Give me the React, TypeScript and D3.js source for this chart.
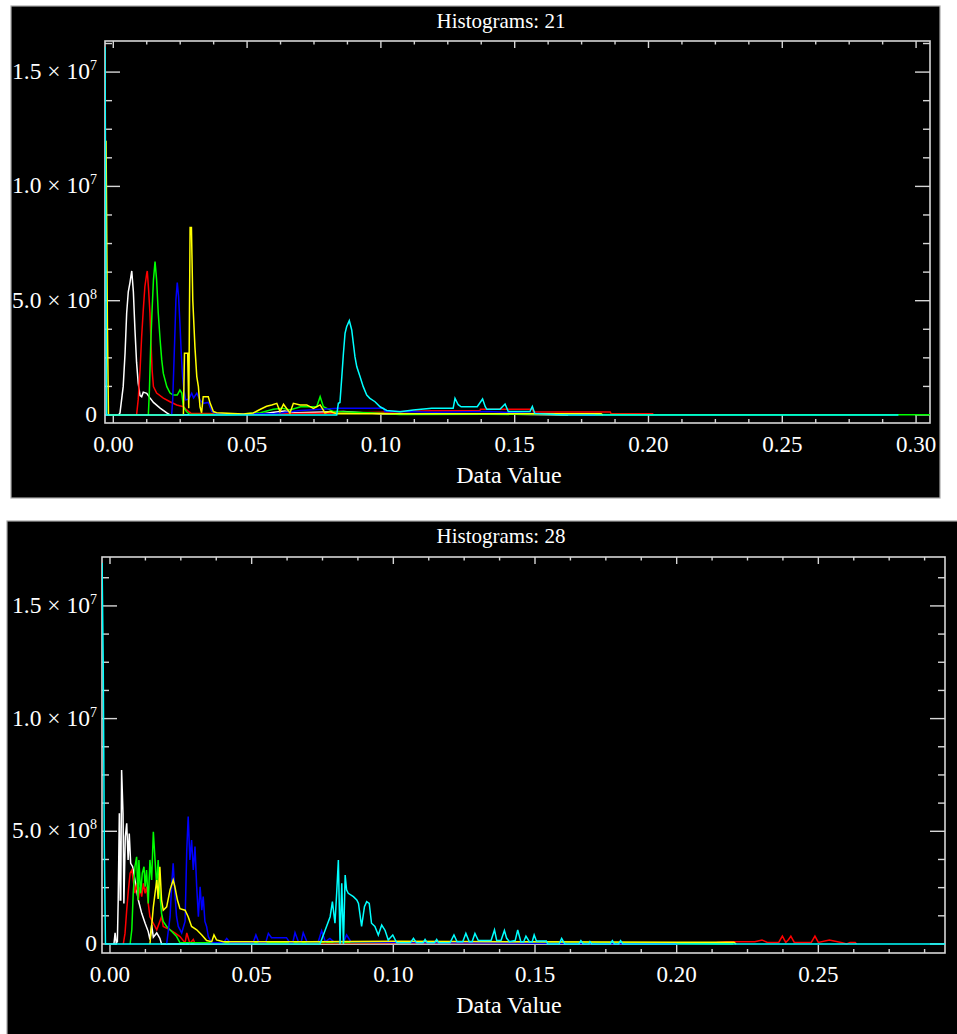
import React, { useEffect, useRef } from "react";
import * as d3 from "d3";

type Pt = [number, number];

// Histograms: 21  -- [data value, count in millions]
const white21: Pt[] = [[0.0020, 0], [0.0025, 0.09], [0.0037, 1.24], [0.0044, 2.71], [0.0050, 4.46], [0.0056, 5.39], [0.0062, 5.77], [0.0069, 6.3], [0.0075, 5.39], [0.0081, 3.72], [0.0087, 2.3], [0.0093, 1.4], [0.0100, 0.85], [0.0106, 0.8], [0.0112, 1.0], [0.0125, 0.95], [0.0137, 0.75], [0.0150, 0.55], [0.0175, 0.3], [0.0200, 0.09], [0.0212, 0], [0.0560, 0.05], [0.0600, 0.12], [0.0640, 0.18], [0.0680, 0.1], [0.0860, 0.15], [0.0900, 0.12], [0.1000, 0.05], [0.1500, 0.03], [0.1700, 0]];
const red21: Pt[] = [[0.0087, 0], [0.0093, 0.66], [0.0100, 1.97], [0.0106, 3.43], [0.0112, 4.59], [0.0118, 5.61], [0.0125, 6.2], [0.0127, 6.3], [0.0132, 5.47], [0.0137, 4.46], [0.0141, 3.15], [0.0145, 1.97], [0.0150, 1.24], [0.0162, 0.96], [0.0187, 0.74], [0.0212, 0.58], [0.0237, 0.44], [0.0262, 0.36], [0.0274, 0.22], [0.0290, 0.08], [0.0400, 0.06], [0.0600, 0.05], [0.0800, 0.08], [0.0900, 0.1], [0.1000, 0.12], [0.1190, 0.19], [0.1370, 0.19], [0.1372, 0.25], [0.1567, 0.25], [0.1570, 0.13], [0.1857, 0.13], [0.1860, 0.06], [0.2015, 0.06], [0.2020, 0]];
const green21: Pt[] = [[0.0131, 0], [0.0135, 1.09], [0.0140, 3.14], [0.0145, 4.59], [0.0150, 5.9], [0.0156, 6.71], [0.0162, 5.9], [0.0168, 4.46], [0.0175, 3.28], [0.0181, 2.41], [0.0187, 1.82], [0.0200, 1.24], [0.0212, 0.96], [0.0224, 0.87], [0.0239, 0.87], [0.0249, 1.09], [0.0256, 0.96], [0.0262, 0.36], [0.0274, 0.14], [0.0287, 0.02], [0.0450, 0.02], [0.0550, 0.1], [0.0598, 0.25], [0.0630, 0.3], [0.0660, 0.22], [0.0700, 0.36], [0.0760, 0.36], [0.0773, 0.8], [0.0785, 0.36], [0.0823, 0.15], [0.0900, 0.12], [0.1000, 0.08], [0.1070, 0.02], [0.1400, 0.03], [0.2000, 0.01], [0.3052, 0.01]];
const blue21: Pt[] = [[0.0218, 0], [0.0222, 0.66], [0.0227, 2.41], [0.0231, 3.86], [0.0234, 5.03], [0.0239, 5.79], [0.0244, 5.17], [0.0249, 4.01], [0.0254, 2.7], [0.0259, 1.68], [0.0264, 1.09], [0.0270, 0.66], [0.0282, 0.7], [0.0293, 0.95], [0.0300, 0.75], [0.0312, 0.95], [0.0324, 0.66], [0.0336, 0.51], [0.0355, 0.55], [0.0368, 0.15], [0.0386, 0.05], [0.0600, 0.05], [0.0700, 0.2], [0.0840, 0.29], [0.1010, 0.29], [0.1015, 0.15], [0.1070, 0.15], [0.1200, 0.12], [0.1400, 0.15], [0.1600, 0.05], [0.1800, 0]];
const yellow21: Pt[] = [[-0.0027, 12.0], [-0.0022, 3.9], [-0.0018, 0], [0.0262, 0], [0.0266, 2.7], [0.0278, 2.7], [0.0282, 0.3], [0.0287, 8.2], [0.0292, 8.2], [0.0297, 5.03], [0.0305, 2.99], [0.0312, 1.68], [0.0318, 1.24], [0.0324, 0.36], [0.0330, 0.1], [0.0336, 0.8], [0.0355, 0.8], [0.0362, 0.51], [0.0374, 0.15], [0.0386, 0.1], [0.0486, 0.04], [0.0523, 0.09], [0.0548, 0.24], [0.0573, 0.38], [0.0592, 0.44], [0.0611, 0.51], [0.0623, 0.15], [0.0636, 0.47], [0.0660, 0.09], [0.0673, 0.51], [0.0698, 0.44], [0.0723, 0.44], [0.0748, 0.29], [0.0773, 0.44], [0.0791, 0.09], [0.0810, 0.15], [0.0835, 0.06], [0.1000, 0.06], [0.1567, 0.05], [0.1823, 0.06], [0.1830, 0]];
const cyan21: Pt[] = [[-0.0031, 16.1], [-0.0025, 0], [0.0835, 0], [0.0841, 0.51], [0.0847, 0.55], [0.0854, 1.68], [0.0860, 2.7], [0.0866, 3.57], [0.0872, 3.86], [0.0882, 4.13], [0.0891, 3.72], [0.0897, 3.14], [0.0903, 2.55], [0.0910, 2.11], [0.0922, 1.68], [0.0934, 1.24], [0.0947, 0.87], [0.0959, 0.73], [0.0978, 0.58], [0.0997, 0.36], [0.1022, 0.2], [0.1072, 0.14], [0.1121, 0.22], [0.1190, 0.29], [0.1270, 0.29], [0.1277, 0.73], [0.1289, 0.45], [0.1300, 0.36], [0.1360, 0.36], [0.1380, 0.7], [0.1390, 0.36], [0.1396, 0.25], [0.1445, 0.25], [0.1464, 0.48], [0.1476, 0.15], [0.1557, 0.15], [0.1566, 0.37], [0.1575, 0.07], [0.1650, 0.02], [0.1700, 0], [0.2934, 0]];

// Histograms: 28
const white28: Pt[] = [[0.0014, 0], [0.0018, 0.49], [0.0022, 0.05], [0.0026, 0.1], [0.0029, 1.95], [0.0033, 5.8], [0.0036, 1.95], [0.0038, 1.95], [0.0041, 7.72], [0.0046, 5.8], [0.0049, 1.8], [0.0054, 4.76], [0.0059, 5.35], [0.0064, 3.73], [0.0068, 4.9], [0.0073, 3.58], [0.0080, 3.43], [0.0088, 2.84], [0.0100, 1.95], [0.0112, 1.36], [0.0124, 0.92], [0.0135, 0.55], [0.0141, 0.2], [0.0147, 0.84], [0.0153, 0.3], [0.0165, 0.49], [0.0176, 0.25], [0.0182, 0], [0.2000, 0]];
const red28: Pt[] = [[0.0047, 0], [0.0053, 0.47], [0.0059, 1.5], [0.0065, 2.4], [0.0071, 3.14], [0.0077, 3.28], [0.0082, 2.84], [0.0088, 2.25], [0.0094, 2.69], [0.0100, 1.95], [0.0106, 2.54], [0.0112, 2.1], [0.0118, 2.69], [0.0124, 2.25], [0.0129, 2.54], [0.0135, 1.8], [0.0141, 1.21], [0.0153, 0.92], [0.0165, 0.63], [0.0182, 1.21], [0.0188, 0.78], [0.0212, 0.63], [0.0229, 0.49], [0.0247, 0.33], [0.0265, 0.05], [0.0271, 0.49], [0.0282, 0.02], [0.0294, 0.2], [0.0300, 0.02], [0.0600, 0.02], [0.1000, 0.05], [0.1500, 0.05], [0.2141, 0.07], [0.2176, 0.1], [0.2276, 0.1], [0.2301, 0.18], [0.2320, 0.07], [0.2360, 0.07], [0.2373, 0.35], [0.2385, 0.07], [0.2395, 0.2], [0.2403, 0.35], [0.2415, 0.07], [0.2475, 0.07], [0.2488, 0.35], [0.2500, 0.07], [0.2539, 0.18], [0.2580, 0.07], [0.2600, 0], [0.2612, 0.07], [0.2630, 0.07], [0.2635, 0]];
const green28: Pt[] = [[0.0071, 0], [0.0077, 0.63], [0.0082, 2.25], [0.0088, 3.43], [0.0094, 3.87], [0.0099, 1.95], [0.0102, 3.73], [0.0108, 2.25], [0.0114, 3.14], [0.0120, 3.43], [0.0124, 2.54], [0.0129, 3.28], [0.0135, 1.8], [0.0141, 3.73], [0.0147, 2.84], [0.0153, 4.98], [0.0159, 3.73], [0.0165, 2.54], [0.0170, 3.73], [0.0176, 2.25], [0.0182, 1.36], [0.0188, 1.0], [0.0200, 0.78], [0.0218, 0.55], [0.0235, 0.33], [0.0247, 0.05], [0.0400, 0.05], [0.1000, 0.08], [0.1500, 0.08], [0.2000, 0.03], [0.2200, 0]];
const blue28: Pt[] = [[0.0200, 0], [0.0212, 1.21], [0.0218, 2.69], [0.0223, 3.58], [0.0229, 2.25], [0.0235, 1.21], [0.0241, 0.78], [0.0253, 0.49], [0.0265, 1.0], [0.0271, 4.17], [0.0276, 5.65], [0.0282, 3.73], [0.0288, 4.61], [0.0294, 3.28], [0.0300, 4.32], [0.0306, 2.54], [0.0312, 1.21], [0.0318, 2.54], [0.0324, 1.5], [0.0329, 2.1], [0.0335, 1.0], [0.0341, 0.78], [0.0347, 0.33], [0.0359, 0.05], [0.0400, 0.05], [0.0412, 0.25], [0.0425, 0.05], [0.0505, 0.05], [0.0515, 0.4], [0.0525, 0.08], [0.0550, 0.08], [0.0559, 0.47], [0.0570, 0.28], [0.0623, 0.28], [0.0635, 0.05], [0.0645, 0.05], [0.0653, 0.5], [0.0665, 0.1], [0.0675, 0.1], [0.0682, 0.5], [0.0695, 0.1], [0.0735, 0.1], [0.0747, 0.59], [0.0760, 0.1], [0.0776, 0.25], [0.0790, 0.1], [0.0825, 0.1], [0.0835, 0.4], [0.0850, 0.1], [0.1000, 0.08], [0.1500, 0.03], [0.2000, 0]];
const yellow28: Pt[] = [[0.0141, 0], [0.0147, 0.78], [0.0153, 1.65], [0.0159, 2.25], [0.0165, 2.84], [0.0170, 2.0], [0.0176, 3.43], [0.0182, 1.95], [0.0188, 1.5], [0.0200, 1.65], [0.0212, 2.4], [0.0223, 2.84], [0.0229, 2.54], [0.0238, 1.95], [0.0247, 1.57], [0.0265, 1.5], [0.0276, 1.21], [0.0288, 0.78], [0.0306, 0.63], [0.0324, 0.4], [0.0341, 0.15], [0.0359, 0.1], [0.0367, 0.4], [0.0376, 0.18], [0.0400, 0.1], [0.0500, 0.1], [0.0700, 0.1], [0.1000, 0.12], [0.1500, 0.1], [0.2000, 0.08], [0.2202, 0.08], [0.2210, 0]];
const cyan28: Pt[] = [[-0.0028, 16.9], [-0.0024, 12.6], [-0.0020, 4.3], [-0.0016, 0], [0.0741, 0], [0.0759, 0.6], [0.0777, 1.21], [0.0785, 1.88], [0.0794, 0.92], [0.0800, 2.25], [0.0806, 3.73], [0.0812, 0], [0.0818, 2.69], [0.0824, 0], [0.0830, 3.06], [0.0835, 2.4], [0.0841, 2.25], [0.0859, 2.1], [0.0871, 1.95], [0.0877, 1.8], [0.0888, 0.78], [0.0898, 1.65], [0.0906, 1.88], [0.0915, 1.8], [0.0923, 0.92], [0.0935, 0.78], [0.0947, 0.4], [0.0959, 0.84], [0.0971, 0.6], [0.0982, 0.18], [0.0998, 0.4], [0.1012, 0.05], [0.1060, 0.05], [0.1071, 0.25], [0.1082, 0.05], [0.1105, 0.05], [0.1112, 0.2], [0.1120, 0.05], [0.1145, 0.05], [0.1153, 0.2], [0.1160, 0.05], [0.1200, 0.05], [0.1214, 0.4], [0.1225, 0.1], [0.1245, 0.1], [0.1256, 0.47], [0.1268, 0.1], [0.1278, 0.1], [0.1288, 0.47], [0.1300, 0.15], [0.1345, 0.15], [0.1357, 0.62], [0.1365, 0.15], [0.1380, 0.15], [0.1392, 0.6], [0.1400, 0.25], [0.1410, 0.1], [0.1430, 0.15], [0.1439, 0.62], [0.1450, 0.1], [0.1460, 0.1], [0.1468, 0.35], [0.1480, 0.1], [0.1490, 0.1], [0.1497, 0.4], [0.1505, 0.13], [0.1540, 0.13], [0.1545, 0], [0.1585, 0], [0.1594, 0.25], [0.1605, 0], [0.1655, 0], [0.1662, 0.15], [0.1670, 0], [0.1690, 0], [0.1694, 0.1], [0.1700, 0], [0.1765, 0], [0.1773, 0.15], [0.1780, 0], [0.1795, 0], [0.1802, 0.15], [0.1810, 0], [0.2947, 0]];

const seriesColors = ["#ffffff", "#ff0000", "#00ff00", "#0000ff", "#ffff00", "#00ffff"];

const xMajor21 = [0, 0.05, 0.1, 0.15, 0.2, 0.25, 0.3];
const xMajor28 = [0, 0.05, 0.1, 0.15, 0.2, 0.25];
const yMajor = [0, 5, 10, 15]; // millions
const yMantissa = ["0", "5.0", "1.0", "1.5"];
const yExponent = ["", "8", "7", "7"];

const panels = [
  {
    title: "Histograms: 21",
    series: [white21, red21, green21, blue21, yellow21, cyan21],
    xTicks: xMajor21,
    box: { x: 11, y: 6, w: 929, h: 492 },
    plot: { left: 105, right: 930, top: 41, bottom: 423 },
    xDomain: [-0.0031, 0.3052],
    yDomain: [-0.35, 16.36],
    titleY: 28,
  },
  {
    title: "Histograms: 28",
    series: [white28, red28, green28, blue28, yellow28, cyan28],
    xTicks: xMajor28,
    box: { x: 7, y: 521, w: 960, h: 520 },
    plot: { left: 102, right: 945, top: 557, bottom: 953 },
    xDomain: [-0.00282, 0.2947],
    yDomain: [-0.4, 17.17],
    titleY: 543,
  },
];

const axisColor = "#d6d6d6";
const font = "'Liberation Serif', 'Times New Roman', serif";

function App() {
  const ref = useRef<SVGSVGElement>(null);

  useEffect(() => {
    const svg = d3.select(ref.current);
    svg.selectAll("*").remove();

    panels.forEach((p, pi) => {
      const g = svg.append("g");
      const { left, right, top, bottom } = p.plot;
      const x = d3.scaleLinear().domain(p.xDomain).range([left, right]);
      const y = d3.scaleLinear().domain(p.yDomain).range([bottom, top]);

      g.append("rect")
        .attr("x", p.box.x).attr("y", p.box.y)
        .attr("width", p.box.w).attr("height", p.box.h)
        .attr("fill", "#000").attr("stroke", "#a8a8a8").attr("stroke-width", 1.2);

      // frame
      g.append("rect")
        .attr("x", left).attr("y", top)
        .attr("width", right - left).attr("height", bottom - top)
        .attr("fill", "none").attr("stroke", axisColor).attr("stroke-width", 1.6);

      // x ticks, major every 0.05 and minor every 0.0125
      const xMinor = d3.range(0.0125, p.xDomain[1], 0.0125).filter(v => p.xTicks.every(t => Math.abs(t - v) > 1e-6));
      const xt = g.append("g").attr("stroke", axisColor).attr("stroke-width", 1.4);
      p.xTicks.forEach(t => {
        xt.append("line").attr("x1", x(t)).attr("x2", x(t)).attr("y1", bottom).attr("y2", bottom - 8);
        xt.append("line").attr("x1", x(t)).attr("x2", x(t)).attr("y1", top).attr("y2", top + 7);
      });
      xMinor.forEach(t => {
        xt.append("line").attr("x1", x(t)).attr("x2", x(t)).attr("y1", bottom).attr("y2", bottom - 4);
        xt.append("line").attr("x1", x(t)).attr("x2", x(t)).attr("y1", top).attr("y2", top + 3.5);
      });
      g.append("g").selectAll("text").data(p.xTicks).join("text")
        .attr("x", d => x(d)).attr("y", bottom + 29)
        .attr("text-anchor", "middle").attr("fill", "#fff")
        .attr("font-family", font).attr("font-size", 23)
        .text(d => d3.format(".2f")(d));

      // y ticks
      const yMinor = d3.range(1.25, p.yDomain[1], 1.25).filter(v => yMajor.every(t => Math.abs(t - v) > 1e-6));
      const yt = g.append("g").attr("stroke", axisColor).attr("stroke-width", 1.4);
      yMajor.forEach(t => {
        yt.append("line").attr("x1", left).attr("x2", left + 15).attr("y1", y(t)).attr("y2", y(t));
        yt.append("line").attr("x1", right).attr("x2", right - 15).attr("y1", y(t)).attr("y2", y(t));
      });
      yMinor.forEach(t => {
        yt.append("line").attr("x1", left).attr("x2", left + 7).attr("y1", y(t)).attr("y2", y(t));
        yt.append("line").attr("x1", right).attr("x2", right - 7).attr("y1", y(t)).attr("y2", y(t));
      });
      yMajor.forEach((t, i) => {
        const txt = g.append("text")
          .attr("x", 97).attr("y", y(t) + 7)
          .attr("text-anchor", "end").attr("fill", "#fff")
          .attr("font-family", font).attr("font-size", 23.5);
        if (yExponent[i]) {
          txt.append("tspan").text(yMantissa[i] + " \u00d7 10");
          txt.append("tspan").attr("dy", -9).attr("font-size", 14).text(yExponent[i]);
        } else {
          txt.text(yMantissa[i]);
        }
      });

      // title and x label
      g.append("text").attr("x", 501).attr("y", p.titleY)
        .attr("text-anchor", "middle").attr("fill", "#fff")
        .attr("font-family", font).attr("font-size", 21).text(p.title);
      g.append("text").attr("x", 509).attr("y", bottom + 60)
        .attr("text-anchor", "middle").attr("fill", "#fff")
        .attr("font-family", font).attr("font-size", 24).text("Data Value");

      // histograms, cyan drawn last
      const clipId = "clip" + pi;
      svg.append("clipPath").attr("id", clipId).append("rect")
        .attr("x", left).attr("y", top).attr("width", right - left).attr("height", bottom - top);
      const line = d3.line<Pt>().x(d => x(d[0])).y(d => y(d[1]));
      const lines = g.append("g").attr("clip-path", `url(#${clipId})`);
      p.series.forEach((s, k) => {
        lines.append("path").attr("d", line(s))
          .attr("fill", "none").attr("stroke", seriesColors[k])
          .attr("stroke-width", 1.5).attr("stroke-linejoin", "miter");
      });
    });
  }, []);

  return (
    <svg ref={ref} width={957} height={1034}
      style={{ position: "absolute", left: 0, top: 0, background: "#fff" }} />
  );
}

export default App;
